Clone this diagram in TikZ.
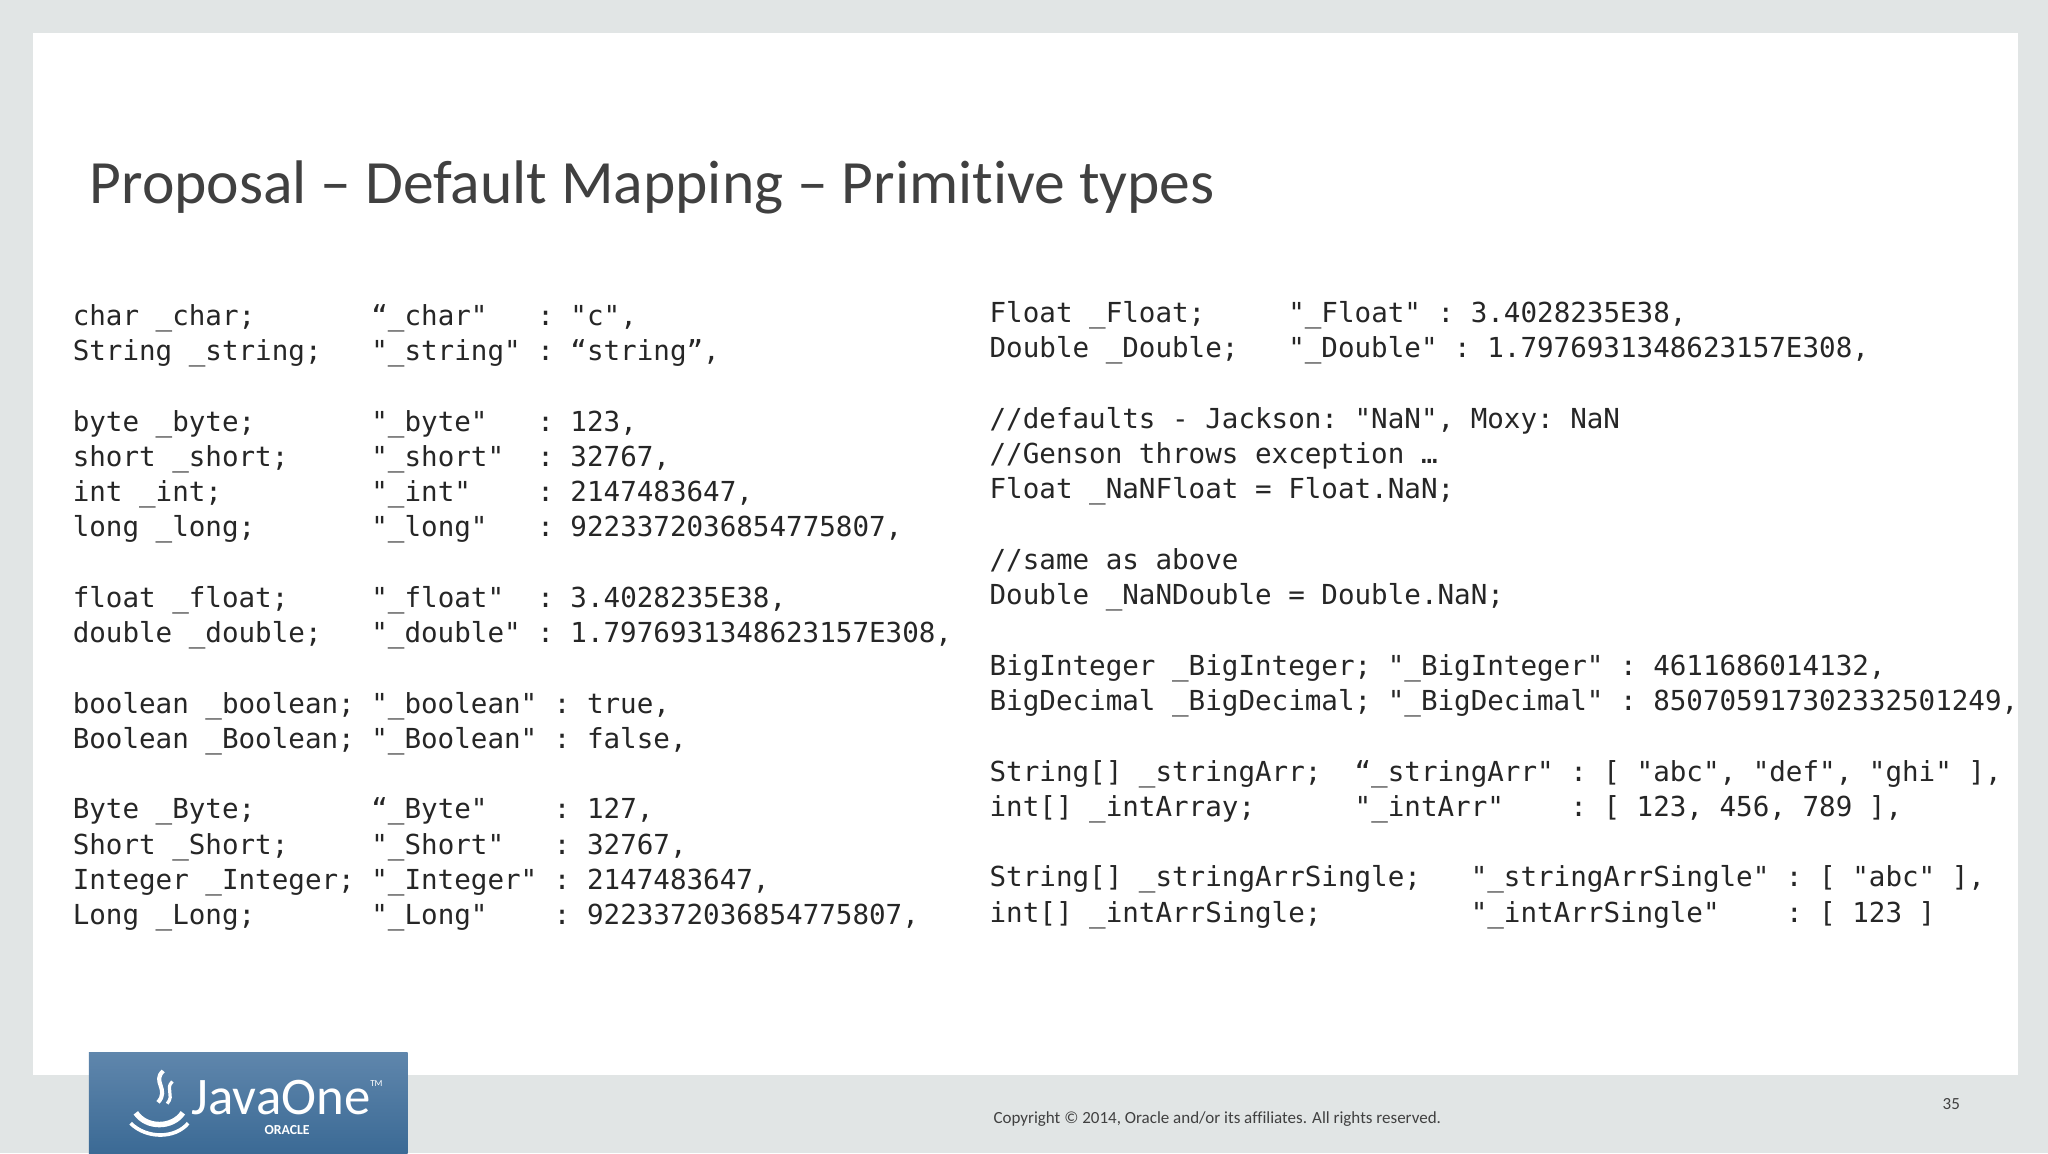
\documentclass[tikz,border=0pt]{standalone}
\usepackage{fontspec}
\setmainfont{Carlito}[Ligatures=NoCommon]
\setmonofont{DejaVu Sans Mono}
\usetikzlibrary{positioning}
\definecolor{slidegray}{HTML}{E1E5E5}
\definecolor{titlegray}{HTML}{404040}
\definecolor{codegray}{HTML}{262626}
\definecolor{logotop}{HTML}{5F86AC}
\definecolor{logobot}{HTML}{3B6A95}
\catcode`\_=12
\begin{document}
\begin{tikzpicture}[x=0.01cm,y=-0.01cm]
\tikzset{
	codeline/.style={
		anchor=base west,
		inner sep=0pt,
		text=codegray,
		font=\fontsize{6pt}{7.7pt}\ttfamily
	},
	titletext/.style={
		anchor=base west,
		inner sep=0pt,
		text=titlegray,
		font=\fontsize{13.4pt}{16pt}\selectfont
	},
	foottext/.style={
		inner sep=0pt,
		text=titlegray,
		font=\fontsize{3.7pt}{4.4pt}\selectfont
	},
}
% background and slide
\useasboundingbox (0,0) rectangle (1568,883);
\fill [slidegray] (0,0) rectangle (1568,883);
\fill [white] (25,25) rectangle (1545,823);

\node (title) [titletext] at (68,156) {Proposal – Default Mapping – Primitive types};

% left column
\foreach \t [count=\i] in {
	{char _char;~~~~~~~“_char"~~~: "c",},
	{String _string;~~~"_string" : “string”,},
	{},
	{byte _byte;~~~~~~~"_byte"~~~: 123,},
	{short _short;~~~~~"_short"~~: 32767,},
	{int _int;~~~~~~~~~"_int"~~~~: 2147483647,},
	{long _long;~~~~~~~"_long"~~~: 9223372036854775807,},
	{},
	{float _float;~~~~~"_float"~~: 3.4028235E38,},
	{double _double;~~~"_double" : 1.7976931348623157E308,},
	{},
	{boolean _boolean; "_boolean" : true,},
	{Boolean _Boolean; "_Boolean" : false,},
	{},
	{Byte _Byte;~~~~~~~“_Byte"~~~~: 127,},
	{Short _Short;~~~~~"_Short"~~~: 32767,},
	{Integer _Integer; "_Integer" : 2147483647,},
	{Long _Long;~~~~~~~"_Long"~~~~: 9223372036854775807,}}
	\node (L\i) [codeline] at (55,249+27*\i-27) {\t};

% right column
\foreach \t [count=\i] in {
	{Float _Float;~~~~~"_Float" : 3.4028235E38,},
	{Double _Double;~~~"_Double" : 1.7976931348623157E308,},
	{},
	{//defaults - Jackson: "NaN", Moxy: NaN},
	{//Genson throws exception …},
	{Float _NaNFloat = Float.NaN;},
	{},
	{//same as above},
	{Double _NaNDouble = Double.NaN;},
	{},
	{BigInteger _BigInteger; "_BigInteger" : 4611686014132,},
	{BigDecimal _BigDecimal; "_BigDecimal" : 850705917302332501249,},
	{},
	{String[] _stringArr;~~“_stringArr" : [ "abc", "def", "ghi" ],},
	{int[] _intArray;~~~~~~"_intArr"~~~~: [ 123, 456, 789 ],},
	{},
	{String[] _stringArrSingle;~~~"_stringArrSingle" : [ "abc" ],},
	{int[] _intArrSingle;~~~~~~~~~"_intArrSingle"~~~~: [ 123 ]}}
	\node (R\i) [codeline] at (757,247+27*\i-27) {\t};

% footer
\node (copy) [foottext] at (932,857) {Copyright © 2014, Oracle and/or its affiliates. All rights reserved.};
\node (page) [foottext] at (1494,845) {35};

% logo
\shade [top color=logotop, bottom color=logobot] (68,806) rectangle (312,883);
\draw [white, line width=1.2pt] (104,852) .. controls (112,864) and (132,864) .. (140,852);
\draw [white, line width=0.8pt] (100,860) .. controls (112,872) and (134,872) .. (144,860);
\draw [white, line width=0.9pt] (125,820) .. controls (116,828) and (130,834) .. (121,844);
\draw [white, line width=0.7pt] (132,828) .. controls (126,834) and (134,838) .. (128,845);
\node (java) [inner sep=0pt, text=white, font=\fontsize{11.5pt}{13pt}\selectfont, anchor=base west] at (146,853) {JavaOne\raisebox{1.1ex}{\fontsize{2pt}{2pt}\selectfont TM}};
\node (oracle) [inner sep=0pt, text=white, font=\fontsize{3pt}{3pt}\selectfont\bfseries, below=0.07cm of java] {ORACLE};
\end{tikzpicture}
\end{document}
